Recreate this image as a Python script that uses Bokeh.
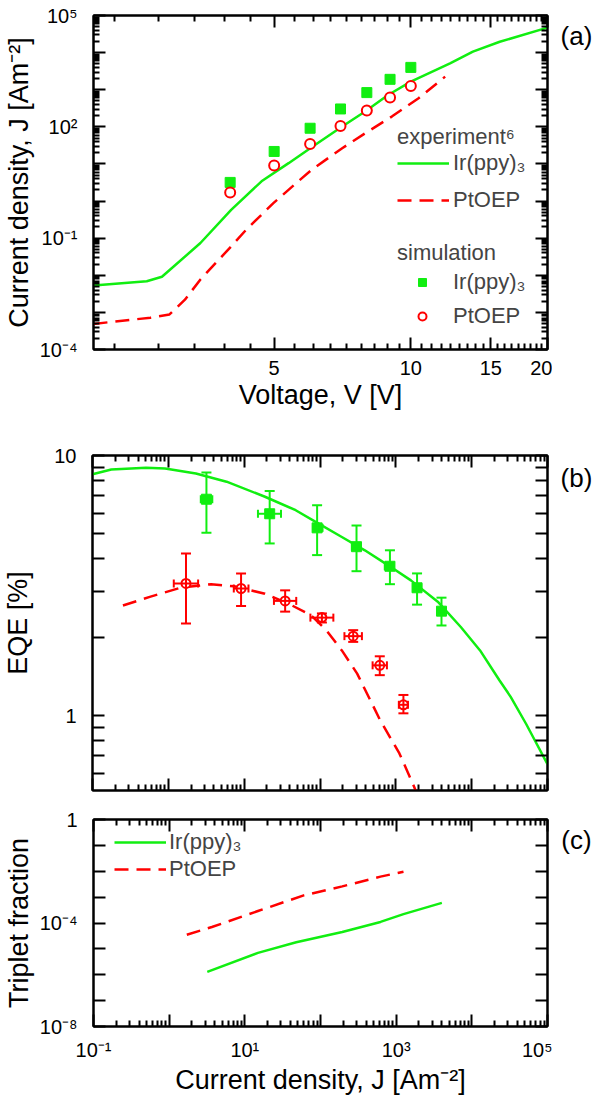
import numpy as np
from bokeh.plotting import figure
from bokeh.models import (FixedTicker, LogAxis, Legend, LegendItem, Label,
                          Whisker, ColumnDataSource, TeeHead)
from bokeh.layouts import column, row
from bokeh.embed import file_html
from bokeh.resources import INLINE

FONT = "Liberation Sans"
GREEN = "#11EE11"
RED = "#FF0000"

# ---------------- Panel (a): J-V ----------------
va_ir_exp = [2.0, 2.62, 2.83, 3.44, 4.02, 4.69, 5.38, 6.16, 7.06, 7.93, 8.91, 10.0, 12.2, 13.7, 15.7, 20.0]
ja_ir_exp = [5.3e-3, 6.9e-3, 9.1e-3, 0.074, 0.58, 3.4, 10.5, 33, 102, 258, 720, 1650, 5100, 1.06e4, 1.96e4, 4.7e4]
va_pt_exp = [2.0, 2.67, 2.94, 3.18, 3.44, 4.02, 4.34, 4.98, 5.59, 6.04, 7.06, 7.93, 9.08, 10.4, 11.9]
ja_pt_exp = [4.9e-4, 7.2e-4, 8.8e-4, 2.2e-3, 7.7e-3, 0.06, 0.17, 0.88, 3.05, 6.9, 26.6, 67, 189, 587, 2250]
v_sim = [4, 5, 6, 7, 8, 9, 10]
j_ir_sim = [3.18, 21.7, 91.6, 303, 836, 1905, 4000]
j_pt_sim = [1.71, 9.1, 34.7, 106, 274, 614, 1259]

# ---------------- Panel (b): EQE-J ----------------
jb_ir_exp = [0.1, 0.177, 0.507, 0.906, 2.31, 5.86, 18.8, 47.8, 96, 194, 390, 785, 1580, 3570, 7190, 12900, 23100, 32700, 52100, 1e5]
eqe_ir_exp = [8.47, 8.84, 8.97, 8.91, 8.53, 7.93, 6.94, 6.16, 5.47, 4.86, 4.32, 3.79, 3.31, 2.74, 2.19, 1.78, 1.37, 1.18, 0.93, 0.65]
jb_pt_exp = [0.252, 0.569, 1.44, 3.67, 7.4, 18.8, 37.8, 76, 121, 194, 309, 621, 1114, 1675, 1850]
eqe_pt_exp = [2.65, 2.86, 3.1, 3.2, 3.14, 2.94, 2.7, 2.43, 2.13, 1.78, 1.45, 0.96, 0.715, 0.547, 0.51]

eqe_ir_sim = [6.79, 5.97, 5.27, 4.46, 3.75, 3.10, 2.52]
eqe_ir_hi = [8.6, 7.31, 6.44, 5.38, 4.32, 3.52, 2.84]
eqe_ir_lo = [5.05, 4.59, 4.14, 3.59, 3.2, 2.67, 2.22]
j_ir_lo = [2.68, 15.2, 81.9, 263, 715, 1714, 3581]
j_ir_hi = [3.80, 30.6, 108, 347, 900, 2158, 4508]

eqe_pt_sim = [3.22, 3.08, 2.76, 2.38, 2.02, 1.56, 1.10]
eqe_pt_hi = [4.2, 3.52, 3.03, 2.47, 2.13, 1.69, 1.2]
eqe_pt_lo = [2.26, 2.64, 2.51, 2.28, 1.92, 1.43, 1.02]
j_pt_lo = [1.18, 7.3, 24.7, 74.7, 210, 494, 1096]
j_pt_hi = [2.47, 11.4, 48.6, 150, 357, 763, 1445]

# ---------------- Panel (c): triplet fraction ----------------
jc_ir = [3.19, 14.9, 47.8, 194, 621, 1250, 4018]
tf_ir = [1.3e-6, 7.0e-6, 1.8e-5, 4.5e-5, 1.1e-4, 2.2e-4, 6.0e-4]
jc_pt = [1.71, 3.67, 14.9, 60, 194, 621, 1250]
tf_pt = [3.5e-5, 7.0e-5, 2.9e-4, 1.17e-3, 2.6e-3, 6.2e-3, 9.6e-3]

# tick definitions (Origin style: major step 5 V, 8 minor ticks in between)
va_major = [5, 10, 15, 20]
va_step = 5 / 9
va_minor = ([5 - k * va_step for k in range(1, 6)] +
            [m + k * va_step for m in (5, 10, 15) for k in range(1, 9)])
va_labels = {5: "5", 10: "10", 15: "15", 20: "20"}

ja_major = [10.0 ** e for e in range(-4, 6)]
ja_labels = {10.0 ** 5: "10\u2075", 10.0 ** 2: "10\u00b2", 10.0 ** -1: "10\u207b\u00b9", 10.0 ** -4: "10\u207b\u2074"}

jx_major = [10.0 ** e for e in range(-1, 6)]
jx_labels = {10.0 ** -1: "10\u207b\u00b9", 10.0 ** 1: "10\u00b9", 10.0 ** 3: "10\u00b3", 10.0 ** 5: "10\u2075"}

eqe_major = [1, 10]
eqe_minor = [0.6, 0.7, 0.8, 0.9, 2, 3, 4, 5, 6, 7, 8, 9]
eqe_labels = {1: "1", 10: "10"}

tf_major = [10.0 ** e for e in range(-8, 1)]
tf_labels = {1.0: "1", 10.0 ** -4: "10\u207b\u2074", 10.0 ** -8: "10\u207b\u2078"}

MAIN_W = 552
LAB_W = 40
TITLE_SIZE = "27px"
LEG_SIZE = "22px"


def log_minors(lo, hi):
    out = []
    for e in range(lo, hi):
        for m in range(2, 10):
            out.append(m * 10.0 ** e)
    return out


def style(ax, major, minor, labels, show, minor_len=6):
    ax.ticker = FixedTicker(ticks=major, minor_ticks=minor)
    ax.major_tick_in = 12
    ax.major_tick_out = 0
    ax.minor_tick_in = minor_len
    ax.minor_tick_out = 0
    ax.axis_line_width = 2
    ax.axis_line_color = "black"
    ax.major_tick_line_width = 2
    ax.minor_tick_line_width = 2
    ax.major_tick_line_color = "black"
    ax.minor_tick_line_color = "black"
    ax.major_label_text_font = FONT
    ax.major_label_text_color = "black"
    ax.axis_label_text_font = FONT
    ax.axis_label_text_font_style = "normal"
    ax.axis_label_text_font_size = TITLE_SIZE
    ax.axis_label_text_color = "black"
    if show:
        ax.major_label_text_font_size = "20px"
        ax.major_label_overrides = {k: labels.get(k, "") for k in major}
    else:
        ax.major_label_text_font_size = "0px"
        ax.major_label_standoff = 0
        ax.major_label_overrides = {k: "" for k in major}


def make_fig(height, top, bottom, xr, yr):
    p = figure(width=MAIN_W, height=height, x_axis_type="log", y_axis_type="log",
               x_range=xr, y_range=yr, min_border_left=89, min_border_right=5,
               min_border_top=top, min_border_bottom=bottom,
               output_backend="svg", toolbar_location=None)
    p.grid.visible = False
    p.outline_line_color = "black"
    p.outline_line_width = 2
    p.background_fill_color = "white"
    p.border_fill_color = "white"
    return p


def label_fig(height, text, sx, sy):
    # the frame of this side figure is aligned with its row neighbour's frame,
    # so the label position is measured from that frame's bottom edge
    q = figure(width=LAB_W, height=height, x_range=(0, 1), y_range=(0, 1),
               x_axis_location=None, y_axis_location=None, min_border=0,
               output_backend="svg", toolbar_location=None)
    q.grid.visible = False
    q.outline_line_color = None
    q.add_layout(Label(x=sx, y=sy, x_units="screen", y_units="screen", text=text,
                       text_align="center", text_baseline="middle",
                       text_font=FONT, text_font_size="26px", text_color="black"))
    return q


def mirror(p, xmaj, xmin, ymaj, ymin, yminor_len=6):
    top = LogAxis()
    right = LogAxis()
    p.add_layout(top, "above")
    p.add_layout(right, "right")
    style(top, xmaj, xmin, {}, False)
    style(right, ymaj, ymin, {}, False, yminor_len)


def legend_style(lg):
    lg.background_fill_alpha = 0
    lg.border_line_alpha = 0
    lg.padding = 0
    lg.margin = 0
    lg.label_text_font = FONT
    lg.label_text_font_size = LEG_SIZE
    lg.title_text_font = FONT
    lg.title_text_font_size = LEG_SIZE
    lg.title_text_font_style = "normal"
    lg.label_height = 20
    lg.glyph_height = 20


# ============ Panel (a) ============
HA = 419
pa = make_fig(HA, 15, 70, (2, 20), (1e-4, 1e5))
style(pa.xaxis[0], va_major, va_minor, va_labels, True)
style(pa.yaxis[0], ja_major, log_minors(-4, 5), ja_labels, True)
pa.xaxis[0].major_label_standoff = 11
pa.xaxis[0].axis_label = "Voltage, V [V]"
pa.xaxis[0].axis_label_standoff = 2
pa.yaxis[0].major_label_standoff = 16
pa.yaxis[0].axis_label = "Current density, J [Am\u207b\u00b2]"
pa.yaxis[0].axis_label_standoff = 3
mirror(pa, va_major, va_minor, ja_major, log_minors(-4, 5))

la1 = pa.line(va_ir_exp, ja_ir_exp, line_color=GREEN, line_width=2.5)
la2 = pa.line(va_pt_exp, ja_pt_exp, line_color=RED, line_width=2.5, line_dash="14 8")
sa1 = pa.scatter(v_sim, j_ir_sim, marker="square", size=10, fill_color=GREEN, line_color=GREEN)
sa2 = pa.scatter(v_sim, j_pt_sim, marker="circle", size=10, fill_color="white",
                 line_color=RED, line_width=2)

lg1 = Legend(items=[LegendItem(label="Ir(ppy)\u2083", renderers=[la1]),
                    LegendItem(label="PtOEP", renderers=[la2])],
             title="experiment\u2076", location=(304, 136))
legend_style(lg1)
lg1.glyph_width = 52
lg1.label_standoff = 4
lg1.spacing = 11
lg1.title_standoff = 0
pa.add_layout(lg1)

lg2 = Legend(items=[LegendItem(label="Ir(ppy)\u2083", renderers=[sa1]),
                    LegendItem(label="PtOEP", renderers=[sa2])],
             title="simulation", location=(304, 20))
legend_style(lg2)
lg2.glyph_width = 50
lg2.label_standoff = 6
lg2.spacing = 8
lg2.title_standoff = 3
pa.add_layout(lg2)
qa = label_fig(HA, "(a)", 24, 314)

# ============ Panel (b) ============
HB = 385
pb = make_fig(HB, 36, 14, (0.1, 1e5), (0.515, 10))
style(pb.xaxis[0], jx_major, log_minors(-1, 5), {}, False)
style(pb.yaxis[0], eqe_major, eqe_minor, eqe_labels, True, 12)
pb.yaxis[0].major_label_standoff = 16
pb.yaxis[0].axis_label = "EQE [%]"
pb.yaxis[0].axis_label_standoff = 18
mirror(pb, jx_major, log_minors(-1, 5), eqe_major, eqe_minor, 12)

pb.line(jb_ir_exp, eqe_ir_exp, line_color=GREEN, line_width=2.5)
pb.line(jb_pt_exp, eqe_pt_exp, line_color=RED, line_width=2.5, line_dash="14 8")

for jx, e, lo, hi, jlo, jhi, col in [
        (j_ir_sim, eqe_ir_sim, eqe_ir_lo, eqe_ir_hi, j_ir_lo, j_ir_hi, GREEN),
        (j_pt_sim, eqe_pt_sim, eqe_pt_lo, eqe_pt_hi, j_pt_lo, j_pt_hi, RED)]:
    src = ColumnDataSource(dict(x=jx, y=e, lo=lo, hi=hi, xlo=jlo, xhi=jhi))
    pb.add_layout(Whisker(source=src, base="x", lower="lo", upper="hi", dimension="height",
                          line_color=col, line_width=2, level="glyph",
                          lower_head=TeeHead(size=10, line_color=col, line_width=2),
                          upper_head=TeeHead(size=10, line_color=col, line_width=2)))
    pb.add_layout(Whisker(source=src, base="y", lower="xlo", upper="xhi", dimension="width",
                          line_color=col, line_width=2, level="glyph",
                          lower_head=TeeHead(size=8, line_color=col, line_width=2),
                          upper_head=TeeHead(size=8, line_color=col, line_width=2)))

pb.scatter(j_ir_sim, eqe_ir_sim, marker="square", size=10, fill_color=GREEN, line_color=GREEN)
pb.scatter(j_pt_sim, eqe_pt_sim, marker="circle", size=9, fill_color="white",
           line_color=RED, line_width=2)
qb = label_fig(HB, "(b)", 24, 313)

# ============ Panel (c) ============
HC = 293
pc = make_fig(HC, 15, 68, (0.1, 1e5), (1e-8, 1))
style(pc.xaxis[0], jx_major, log_minors(-1, 5), jx_labels, True)
style(pc.yaxis[0], tf_major, [], tf_labels, True)
pc.xaxis[0].major_label_standoff = 12
pc.xaxis[0].axis_label = "Current density, J [Am\u207b\u00b2]"
pc.xaxis[0].axis_label_standoff = 1
pc.yaxis[0].major_label_standoff = 16
pc.yaxis[0].axis_label = "Triplet fraction"
pc.yaxis[0].axis_label_standoff = 3
mirror(pc, jx_major, log_minors(-1, 5), tf_major, [])

lc1 = pc.line(jc_ir, tf_ir, line_color=GREEN, line_width=2.5)
lc2 = pc.line(jc_pt, tf_pt, line_color=RED, line_width=2.5, line_dash="14 8")
lg3 = Legend(items=[LegendItem(label="Ir(ppy)\u2083", renderers=[lc1]),
                    LegendItem(label="PtOEP", renderers=[lc2])],
             location=(21, 144))
legend_style(lg3)
lg3.glyph_width = 52
lg3.label_standoff = 3
lg3.spacing = 1
pc.add_layout(lg3)
qc = label_fig(HC, "(c)", 24, 187)

layout = column(row(pa, qa), row(pb, qb), row(pc, qc))
open("out.html", "w").write(file_html(layout, INLINE))
